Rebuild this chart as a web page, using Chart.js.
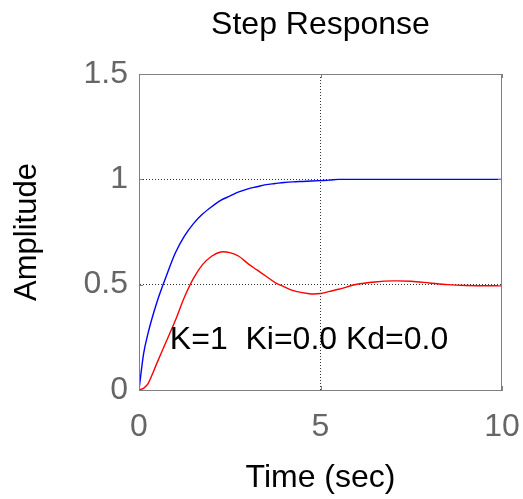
<!DOCTYPE html>
<html>
<head>
<meta charset="utf-8">
<script src="https://cdn.jsdelivr.net/npm/chart.js@4/dist/chart.umd.min.js"></script>
<style>
  html, body { margin: 0; padding: 0; background: #fff; }
  #wrap { width: 523px; height: 499px; }
</style>
</head>
<body>
<div id="wrap"><canvas id="stepChart"></canvas></div>
<script>
// time samples (sec)
const time = [0, 0.125, 0.25, 0.5, 0.75, 1, 1.25, 1.5, 1.75, 2, 2.25, 2.5, 2.75, 3, 3.25, 3.5, 3.75,
    4, 4.25, 4.5, 4.75, 5, 5.25, 5.5, 6, 6.5, 7, 7.5, 8, 8.5, 9, 9.5, 10];

// blue curve
const blueResp = [0, 0.17, 0.27, 0.42, 0.54, 0.65, 0.73, 0.79, 0.835, 0.87, 0.9, 0.92, 0.94, 0.955, 0.965, 0.975, 0.98,
    0.985, 0.988, 0.99, 0.992, 0.994, 0.996, 1.0, 1.0, 1.0, 1.0, 1.0, 1.0, 1.0, 1.0, 1.0, 1.0];

// red curve
const redResp = [0, 0.008, 0.03, 0.13, 0.23, 0.33, 0.44, 0.53, 0.595, 0.635, 0.655, 0.652, 0.635, 0.6, 0.57, 0.54, 0.51,
    0.49, 0.472, 0.462, 0.456, 0.458, 0.468, 0.478, 0.502, 0.513, 0.518, 0.516, 0.508, 0.5, 0.496, 0.495, 0.495];

const xTicks = [0, 5, 10];
const yTicks = [0, 0.5, 1, 1.5];
const noteText = 'K=1  Ki=0.0 Kd=0.0';

const FONT = "'Liberation Sans', Arial, sans-serif";

function toPoints(vals) {
    return time.map((t, i) => ({ x: t, y: vals[i] }));
}

// box round the plot, small inward ticks, and the K/Ki/Kd note
const framePlugin = {
    id: 'frame',
    afterDraw(chart) {
        const { ctx, chartArea: a, scales } = chart;
        ctx.save();
        ctx.strokeStyle = '#808080';
        ctx.lineWidth = 1;
        ctx.strokeRect(a.left + 0.5, a.top + 0.5, a.right - a.left - 1, a.bottom - a.top);
        ctx.beginPath();
        xTicks.forEach(v => {
            const px = Math.round(scales.x.getPixelForValue(v)) + 0.5;
            ctx.moveTo(px, a.bottom); ctx.lineTo(px, a.bottom - 4);
            ctx.moveTo(px, a.top); ctx.lineTo(px, a.top + 4);
        });
        yTicks.forEach(v => {
            const py = Math.round(scales.y.getPixelForValue(v)) + 0.5;
            ctx.moveTo(a.left, py); ctx.lineTo(a.left + 4, py);
            ctx.moveTo(a.right, py); ctx.lineTo(a.right - 4, py);
        });
        ctx.stroke();

        ctx.fillStyle = '#000';
        ctx.font = '32px ' + FONT;
        ctx.textAlign = 'left';
        ctx.textBaseline = 'middle';
        ctx.fillText(noteText, scales.x.getPixelForValue(0.85), scales.y.getPixelForValue(0.237));
        ctx.restore();
    }
};

function innerGrid(lo, hi) {
    return c => (c.tick && c.tick.value > lo && c.tick.value < hi) ? '#333' : 'rgba(0,0,0,0)';
}

const config = {
    type: 'line',
    data: {
        datasets: [
            {
                label: 'blue',
                data: toPoints(blueResp),
                borderColor: '#0000ff',
                borderWidth: 1.4,
                pointRadius: 0,
                cubicInterpolationMode: 'monotone',
                fill: false
            },
            {
                label: 'red',
                data: toPoints(redResp),
                borderColor: '#ff0000',
                borderWidth: 1.4,
                pointRadius: 0,
                tension: 0.3,
                fill: false
            }
        ]
    },
    options: {
        responsive: true,
        maintainAspectRatio: false,
        animation: false,
        layout: { padding: { left: 0, right: 21, top: 0, bottom: 0 } },
        plugins: {
            legend: { display: false },
            tooltip: { enabled: false },
            title: {
                display: true,
                text: 'Step Response',
                fullSize: false,
                color: '#000',
                font: { family: FONT, size: 32, weight: 'normal' },
                padding: { top: 6, bottom: 29.6 }
            }
        },
        scales: {
            x: {
                type: 'linear',
                min: 0,
                max: 10,
                afterBuildTicks: s => { s.ticks = xTicks.map(v => ({ value: v })); },
                afterFit: s => { s.height = 109; s.paddingLeft = 0; s.paddingRight = 0; },
                ticks: {
                    color: '#666',
                    padding: 18,
                    maxRotation: 0,
                    font: { family: FONT, size: 32 },
                    callback: v => String(v)
                },
                grid: {
                    color: innerGrid(0, 10),
                    drawTicks: false,
                    lineWidth: 1
                },
                // in v4 this dash goes onto the grid lines; the frame plugin draws the box
                border: { display: true, color: '#808080', dash: [1, 2] },
                title: {
                    display: true,
                    text: 'Time (sec)',
                    color: '#000',
                    font: { family: FONT, size: 32 },
                    padding: { top: 0, bottom: 2 }
                }
            },
            y: {
                min: 0,
                max: 1.5,
                afterBuildTicks: s => { s.ticks = yTicks.map(v => ({ value: v })); },
                afterFit: s => { s.width = 139; s.paddingTop = 0; s.paddingBottom = 0; },
                ticks: {
                    color: '#666',
                    padding: 11,
                    font: { family: FONT, size: 32 },
                    callback: v => String(v)
                },
                grid: {
                    color: innerGrid(0, 1.5),
                    drawTicks: false,
                    lineWidth: 1
                },
                border: { display: true, color: '#808080', dash: [1, 2] },
                title: {
                    display: true,
                    text: 'Amplitude',
                    color: '#000',
                    font: { family: FONT, size: 31 },
                    padding: { top: 9, bottom: 0 }
                }
            }
        }
    },
    plugins: [framePlugin]
};

window.onload = function() {
    const ctx = document.getElementById('stepChart').getContext('2d');
    new Chart(ctx, config);
};
</script>
</body>
</html>
